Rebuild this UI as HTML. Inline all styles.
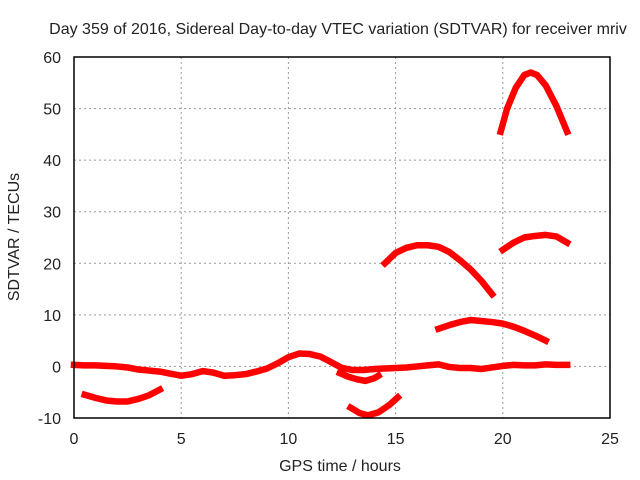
<!DOCTYPE html>
<html><head><meta charset="utf-8"><style>
html,body{margin:0;padding:0;background:#fff;}
svg{display:block;font-family:"Liberation Sans",Arial,sans-serif;}
</style></head><body>
<svg id="chart" width="640" height="480" viewBox="0 0 640 480">
<text x="338" y="34" font-size="16" text-anchor="middle" fill="#222">Day 359 of 2016, Sidereal Day-to-day VTEC variation (SDTVAR) for receiver mriv</text>
<text x="340" y="471" font-size="16" text-anchor="middle" fill="#222">GPS time / hours</text>
<text transform="translate(19,237) rotate(-90)" font-size="16" text-anchor="middle" fill="#222">SDTVAR / TECUs</text>
<g id="grid"></g>
<g id="ticks"></g>
<g id="series"></g>
<rect x="74" y="57" width="536" height="361" fill="none" stroke="#000" stroke-width="1.5"/>
</svg>
<script>
const xTicks=[0,5,10,15,20,25];
const yTicks=[-10,0,10,20,30,40,50,60];
const segBase=[[0,0.3],[0.5,0.2],[1,0.2],[1.5,0.1],[2,0],[2.5,-0.2],[3,-0.6],[3.5,-0.8],[4,-1],[4.5,-1.4],[5,-1.8],[5.5,-1.5],[6,-0.9],[6.5,-1.2],[7,-1.8],[7.5,-1.7],[8,-1.5],[8.5,-1],[9,-0.4],[9.5,0.6],[10,1.8],[10.5,2.5],[11,2.4],[11.5,1.9],[12,0.8],[12.5,-0.3],[13,-0.7],[13.5,-0.7],[14,-0.5],[14.5,-0.4],[15,-0.3],[15.5,-0.2],[16,0],[16.5,0.2],[17,0.4],[17.5,-0.1],[18,-0.3],[18.5,-0.3],[19,-0.5],[19.5,-0.2],[20,0.1],[20.5,0.3],[21,0.2],[21.5,0.2],[22,0.4],[22.5,0.3],[23,0.3]];
const segDip=[[12.4,-1.3],[12.8,-2],[13.2,-2.5],[13.6,-2.8],[14,-2.3],[14.2,-1.8]];
const segLow1=[[0.5,-5.5],[1,-6.1],[1.5,-6.6],[2,-6.8],[2.5,-6.8],[3,-6.3],[3.5,-5.6],[4,-4.5]];
const segLow2=[[12.9,-8],[13.3,-9],[13.7,-9.5],[14.2,-8.9],[14.7,-7.5],[15.1,-6]];
const segA=[[14.5,20],[15,22],[15.5,23],[16,23.5],[16.5,23.5],[17,23.2],[17.5,22.2],[18,20.6],[18.5,18.8],[19,16.6],[19.5,14]];
const segB=[[17,7.3],[17.5,8],[18,8.6],[18.5,9],[19,8.8],[19.5,8.6],[20,8.3],[20.5,7.7],[21,6.9],[21.5,6],[22,5]];
const segC=[[20,22.6],[20.5,24],[21,25],[21.5,25.3],[22,25.5],[22.5,25.2],[23,24]];
const segD=[[19.9,45.5],[20.2,50],[20.6,54],[21,56.5],[21.3,57],[21.6,56.5],[22,54.5],[22.5,50.5],[23,45.5]];
const series=[segBase,segDip,segLow1,segLow2,segA,segB,segC,segD];
const X=v=>74+v*536/25, Y=v=>418-(v+10)*361/70;
const NS="http://www.w3.org/2000/svg";
const grid=document.getElementById('grid'),ticks=document.getElementById('ticks'),sg=document.getElementById('series');
function mk(t,a,p){const e=document.createElementNS(NS,t);for(const k in a)e.setAttribute(k,a[k]);p.appendChild(e);return e;}
xTicks.forEach(v=>{
 if(v>0&&v<25){const l=mk('line',{x1:X(v),x2:X(v),y1:57,y2:418,stroke:'#999','stroke-dasharray':'2,3'},grid);
 
 }
 const t=mk('text',{x:X(v),y:444,'font-size':16,'text-anchor':'middle',fill:'#222'},ticks);t.textContent=v;
 
 
});
yTicks.forEach(v=>{
 if(v>-10&&v<60){const l=mk('line',{x1:74,x2:610,y1:Y(v),y2:Y(v),stroke:'#999','stroke-dasharray':'2,3'},grid);
 
 }
 const t=mk('text',{x:61,y:Y(v)+6,'font-size':16,'text-anchor':'end',fill:'#222'},ticks);t.textContent=v;
 
 
});
series.forEach((s,i)=>{
 const p=mk('polyline',{points:s.map(d=>X(d[0])+','+Y(d[1])).join(' '),fill:'none',stroke:'#ff0000','stroke-width':6.5,'stroke-linejoin':'round','stroke-linecap':'square'},sg);
 
 
});
</script>
</body></html>
